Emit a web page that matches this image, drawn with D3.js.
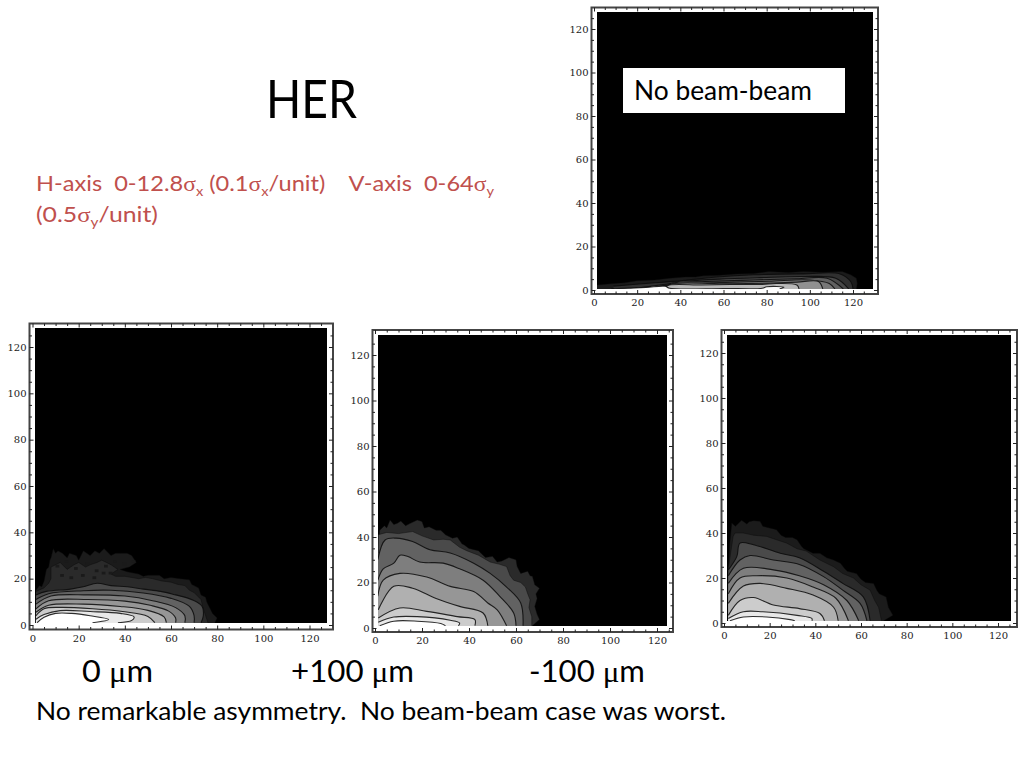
<!DOCTYPE html>
<html><head><meta charset="utf-8">
<script src="https://cdnjs.cloudflare.com/ajax/libs/d3/7.8.5/d3.min.js"></script>
<style>html,body{margin:0;padding:0;background:#fff}svg{display:block}</style>
</head><body><svg id="c" width="1024" height="768"></svg>
<script>
const majorTicks=[0,20,40,60,80,100,120];
const minorTicks=[5,10,15,25,30,35,45,50,55,65,70,75,85,90,95,105,110,115,125];
const levels=["#1b1b1b","#2a2a2a","#4a4a4a","#626262","#7e7e7e","#969696","#b0b0b0","#cccccc","#e8e8e8","#ffffff"];
const levelsD=["#1b1b1b","#303030","#484848","#606060","#787878","#909090","#b8b8b8","#fdfdfd"];

const contoursA=[
[[1.5,15],[3,17],[4,16.5],[5,19],[6,24],[7,25],[7.5,28],[8,29],[9,33],[10,31],[11,32],[13,31],[15,29],[16,31],[19,30],[20,28],[22,32],[25,30],[27,32],[29,31],[31,33],[34,30],[36,31],[38,31],[41,31],[43,30],[45,27],[42,25],[38,24],[41,23],[46,22],[48,21],[50,21.5],[55,21.5],[57,20],[60,20.5],[64,20],[68,19.5],[69,17.5],[70,17],[72,16],[73,13],[75,12],[75.5,10],[76,9],[77,7],[78,5],[80,3],[79,1]],
[[1.5,14.5],[5,16],[7,18],[8,20],[8,25],[10,26],[12,27],[15,24],[18,26],[20,27],[23,25],[25,26],[28,27],[30,28],[34,26],[37,24],[34,22],[36,21],[40,21],[46,20],[49,20.5],[52,20],[56,19],[60,18.5],[63,17.5],[66,17],[68,15],[70,14],[72,12],[73,11],[74,7],[75,4],[76,1]],
[[1.5,13],[6,14.5],[16.5,15.5],[22,16.5],[28,18],[34,17],[41,16.5],[48,15.5],[55.5,14.5],[62,13],[67,11.7],[71,10],[73.5,8],[74,4],[73,1]],
[[1.5,11],[7,13.5],[22,14.8],[34,15],[48,13.8],[60,11.5],[68,8],[70,4],[70,1]],
[[1.5,9],[8,12.5],[24,13],[40,12.5],[52,10.5],[62,7.5],[66,4],[66,1]],
[[1.5,7],[7,10.5],[24,11],[40,10.3],[51,8.5],[59,6],[62,3],[62,1]],
[[1.5,5.5],[7,8.5],[22,9],[38,8],[50,6.3],[57,3.5],[58,1]],
[[1.5,4],[5,7],[12,7.6],[26,7],[39,5.8],[50,3.7],[53,1]],
[[1.5,2.5],[5,4.5],[12,6.2],[25,5.8],[38,5],[44,3.5],[43,2],[37,1]],
[[2,1],[5,3.3],[10,5],[17,5],[25,4],[33,2.4],[26,1]]
];
const contoursB=[
[[1.4,36],[2,43],[4,45],[5,44],[6.4,47.5],[8,45.5],[9.5,46],[11,47],[13,45],[15,46],[18,47.5],[20,46.8],[21,44],[23,44.5],[26,43],[28,43],[30,41],[33,39.5],[35,40],[37,37],[38,36.5],[40,35],[44,34],[46,32],[47,31],[50,31.5],[52,29],[54,29.5],[57,31],[60,30],[60.5,27],[61,26],[62,24],[65,25],[66,23],[67,22.7],[68,19],[70,17.5],[68.5,15],[69,13],[68,9.5],[69,6],[70,3.7],[67,1]],
[[1.4,33],[1.4,41],[5,42],[10,41.5],[16,42.4],[20,40.5],[25,38.7],[29,39],[32,38.7],[36,35.5],[39,34],[44,32],[49,29],[53,28],[56,27],[57.5,23],[59,21],[62,20],[64,18],[65,15],[66,12.4],[65.5,9],[66.7,5],[66.7,1]],
[[1.2,30],[4.3,38.7],[9,39.5],[16,38],[23.4,34.4],[32,33],[42,28.5],[49,24],[56,18],[62,11],[63,1]],
[[1.2,21],[3.5,26],[8,28.5],[10.6,32],[14,31.4],[19,29],[29,28.5],[36,26],[46,21],[53,14],[59,6.6],[60,1]],
[[1.2,14],[3.5,21],[10.6,24],[22,22.4],[32,18.3],[42,16],[48,11],[52,8],[56,1]],
[[1.4,8],[8,18.3],[16,17.5],[26,13],[36,9.5],[46,6.6],[48,1]],
[[1.4,4.4],[10.6,8.8],[22,7.3],[35,5],[42.5,3.7],[42.5,1]],
[[1.4,2.5],[8,4.8],[18,5],[32,3.4],[36,2.2],[35.5,1]],
[[2,1],[8,3],[18,3],[28,2],[30,1]]
];
const contoursC=[
[[2,25],[2.5,35],[3.4,44.5],[5,43],[7.7,45.7],[10,44],[11,45],[13,45.5],[15.8,45.2],[17,43],[19,42.5],[23,41.5],[25,39],[27,38],[30,38],[32,37],[34,34],[35,33],[39,31],[42,31],[45,29],[48,28],[51,26.6],[53,24],[54,23],[58,22],[60,19.5],[62,18],[65.5,17.6],[67,14.5],[68,13],[71,11.6],[72,7],[74,3.4],[70,1]],
[[2,25],[4,38.5],[4.8,40],[8.5,40],[13,39],[18.7,38.5],[23,37],[27.5,35.5],[32,33],[36,32],[42,28],[48,25],[52,22],[56.7,20],[60,17],[64,14.6],[66,10],[67.7,7],[69,1]],
[[1.9,23.6],[5.6,29.5],[7,35.5],[12.9,34.8],[24.6,31],[33,29],[43.6,23],[52,17.6],[61,11.6],[64,1]],
[[1.9,21],[7,28],[11.4,30],[21.6,28],[33,26],[43.6,20.6],[52,14.6],[59.6,8.7],[62.6,1]],
[[1.9,17.6],[8.5,24.3],[21.6,23.6],[33,21],[43.6,17],[53.8,10],[59,1]],
[[1.9,13],[7,20],[14.3,21],[27.5,20],[39,16],[49,11],[54.5,1]],
[[1.9,8.7],[8.5,16.4],[15.8,17.6],[27.5,15.4],[39,12.4],[48,7],[50,1]],
[[1.9,3.4],[7,10],[12.9,11.3],[21.6,8],[33,6.4],[42,4.2],[44,1]],
[[1.9,2],[8.5,5],[17,5],[32,3.4],[38.5,2],[38.5,1]],
[[2.6,1],[8.5,2.7],[18.7,2.7],[29,1.5],[31,1]]
];
const contoursD=[
[[1,2.3],[5,2.6],[9,3],[14,3.3],[20,4.3],[28,4.6],[35,5.4],[42,6],[47,6],[50.6,6.5],[58,6.8],[66,7.4],[74,7.6],[81,8.5],[90,8],[97,8.5],[106,8.2],[115,8.5],[119,7],[121.6,5.4],[122,3],[121.6,0.5]],
[[9,1.8],[24,3],[41,4.3],[57,6],[74,7],[97,7.4],[114,7.4],[119,3.8],[120,0.5]],
[[18,0.5],[32,2.5],[43,4],[58,5],[77,5.7],[97,6.2],[112,5.4],[118,0.5]],
[[24,0.5],[43,3.5],[55,4],[74,4.6],[94,5.2],[108,5.4],[115.5,0.5]],
[[34,0.5],[36,3],[61,3.5],[81,4],[100,4.6],[109,3],[111.6,0.5]],
[[35,0.5],[35,2.4],[63,2.8],[83,3.2],[94,3.6],[104,3.9],[106,0.5]],
[[33,0.5],[34,2],[50,2.3],[63,2.5],[78,2.6],[84.5,3],[94,2.3],[95,0.5]],
[[8,0.5],[24,1.2],[33,1.7],[35,0.8],[60,0.7],[78,0.8],[80,1.5],[88,1.3],[86,0.5]]
];
const speckleA=[[10,26],[14,28],[18,25],[23,27],[27,24],[31,26],[35,28],[39,27],[12,22],[26,21],[30,23],[16,21],[21,22],[33,23],[43,28]];

const panels=[
 {data:contoursA,fills:levels,speckle:speckleA,x0:32.5,x120:309.5,y0:625,y120:347,frame:[29.5,323.5,333,629.5],img:[35,328,327,623],yBase:1},
 {data:contoursB,fills:levels.slice(1),speckle:[],x0:375,x120:657,y0:628,y120:355,frame:[372.5,330,673,632],img:[378,335,667,626],yBase:1},
 {data:contoursC,fills:levels,speckle:[],x0:724,x120:998,y0:623,y120:353,frame:[721.5,330,1017,627],img:[727,335,1011,621],yBase:1},
 {data:contoursD,fills:levelsD,speckle:[],x0:594,x120:853,y0:290,y120:29,frame:[591.5,7.5,878,294],img:[597,12,873,289],yBase:0.5}
];

const svg=d3.select("#c");
let clipN=0;
panels.forEach(p=>{
  const x=d3.scaleLinear().domain([0,120]).range([p.x0,p.x120]);
  const y=d3.scaleLinear().domain([0,120]).range([p.y0,p.y120]);
  const g=svg.append("g");
  const [fl,ft,fr,fb]=p.frame, [il,it,ir,ib]=p.img;
  g.append("rect").attr("x",il).attr("y",it).attr("width",ir-il).attr("height",ib-it).attr("fill","#000");
  const id="clip"+(clipN++);
  g.append("clipPath").attr("id",id).append("rect").attr("x",il).attr("y",it).attr("width",ir-il).attr("height",ib-it);
  const inner=g.append("g").attr("clip-path","url(#"+id+")");
  const rough=d3.line().x(d=>x(d[0])).y(d=>y(d[1]));
  const smooth=d3.line().x(d=>x(d[0])).y(d=>y(d[1])).curve(d3.curveCatmullRom.alpha(0.5));
  p.data.forEach((c,i)=>{
    const gen=(c.length>18)?rough:smooth;
    const last=c[c.length-1];
    const d=gen(c)+`L${x(last[0])},${y(p.yBase-2)}L${x(c[0][0])},${y(p.yBase-2)}Z`;
    inner.append("path").attr("d",d).attr("fill",p.fills[i]);
    inner.append("path").attr("d",gen(c)).attr("fill","none").attr("stroke","#0a0a0a").attr("stroke-width",c.length>18?0.5:1.1).attr("stroke-opacity",0.85).attr("stroke-linejoin","round");
  });
  inner.selectAll("rect.sp").data(p.speckle).join("rect").attr("class","sp")
    .attr("x",d=>x(d[0])).attr("y",d=>y(d[1])).attr("width",x(1.6)-x(0)).attr("height",y(0)-y(1.2)).attr("fill","#1a1a1a");
  g.append("rect").attr("x",fl).attr("y",ft).attr("width",fr-fl).attr("height",fb-ft).attr("fill","none").attr("stroke","#444").attr("stroke-width",2);
  const xs=x.copy().domain([x.invert(fl),x.invert(fr)]).range([fl,fr]);
  const ys=y.copy().domain([y.invert(fb),y.invert(ft)]).range([fb,ft]);
  const style=s=>{s.select(".domain").remove();s.selectAll("line").attr("stroke","#222").attr("stroke-width",1);};
  const tick=(axis,tr,vals,len)=>{
    const a=g.append("g").attr("transform",tr).call(axis.tickValues(vals).tickSize(len).tickFormat("")); style(a); a.selectAll("text").remove();
  };
  [[majorTicks,4],[minorTicks,2.5]].forEach(([v,l])=>{
    tick(d3.axisBottom(xs),`translate(0,${fb})`,v,-l);
    tick(d3.axisTop(xs),`translate(0,${ft})`,v,-l);
    tick(d3.axisLeft(ys),`translate(${fl},0)`,v,-l);
    tick(d3.axisRight(ys),`translate(${fr},0)`,v,-l);
  });
  const lab=s=>{s.select(".domain").remove();s.selectAll("line").remove();s.selectAll("text").attr("font-family","'DejaVu Serif'").attr("font-size",10).attr("fill","#222");};
  g.append("g").attr("transform",`translate(0,${fb+2})`).call(d3.axisBottom(xs).tickValues(majorTicks).tickSize(0).tickPadding(3)).call(lab);
  g.append("g").attr("transform",`translate(${fl-3},0)`).call(d3.axisLeft(ys).tickValues(majorTicks).tickSize(0).tickPadding(0)).call(lab);
});

svg.append("rect").attr("x",623).attr("y",68).attr("width",222).attr("height",45).attr("fill","#fff");

const sans="Lato,'Open Sans',sans-serif", sym="'Liberation Serif',serif";
function text(x,y,size,fill,parts,len){
  const t=svg.append("text").attr("x",x).attr("y",y).attr("font-family",sans).attr("font-size",size).attr("fill",fill).attr("xml:space","preserve").style("white-space","pre");
  parts.forEach(p=>{
    const s=t.append("tspan").text(p.t);
    if(p.sym) s.attr("font-family",sym);
    if(p.sub) s.attr("font-size",size*0.62).attr("dy",size*0.22);
    if(p.up) s.attr("dy",-size*0.22);
  });
  if(len) t.attr("textLength",len).attr("lengthAdjust","spacingAndGlyphs");
  return t;
}
text(266,118,52,"#000",[{t:"HER"}],91);
const red="#c0504d";
text(36,191,21.5,red,[{t:"H-axis  0-12.8"},{t:"σ",sym:1},{t:"x",sub:1},{t:" (0.1",up:1},{t:"σ",sym:1},{t:"x",sub:1},{t:"/unit)    V-axis  0-64",up:1},{t:"σ",sym:1},{t:"y",sub:1}],458);
text(36,222,21.5,red,[{t:"(0.5"},{t:"σ",sym:1},{t:"y",sub:1},{t:"/unit)",up:1}],122);
text(634,100,26,"#000",[{t:"No beam-beam"}],178);
text(82,682,30,"#000",[{t:"0 "},{t:"μ",sym:1},{t:"m"}],71);
text(291,682,30,"#000",[{t:"+100 "},{t:"μ",sym:1},{t:"m"}],123);
text(529,682,30,"#000",[{t:"-100 "},{t:"μ",sym:1},{t:"m"}],116);
text(36,720,25.5,"#000",[{t:"No remarkable asymmetry.  No beam-beam case was worst."}],690);
</script></body></html>
